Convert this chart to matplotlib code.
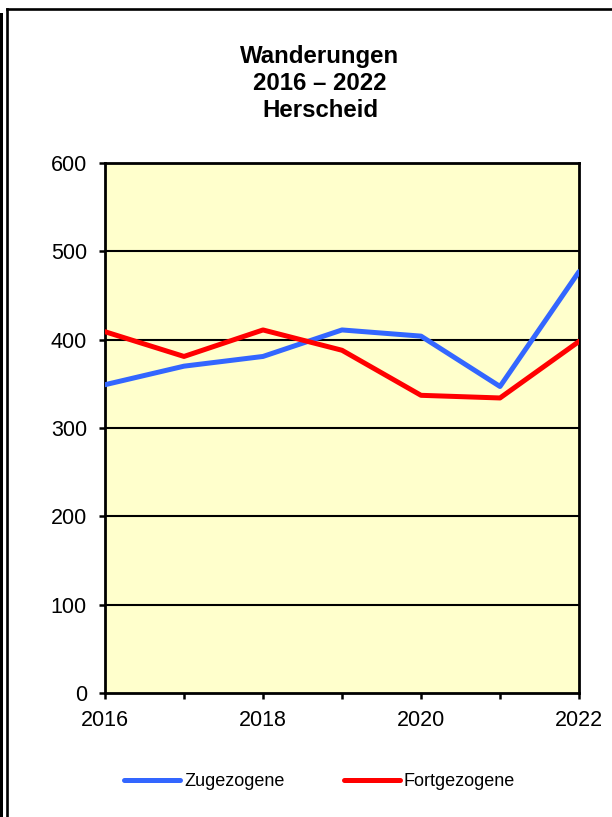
import matplotlib
matplotlib.use("Agg")
import matplotlib.pyplot as plt
from matplotlib.lines import Line2D
from matplotlib.patches import Rectangle

plt.rcParams['font.family'] = ['Liberation Sans', 'DejaVu Sans']

years = [2016, 2017, 2018, 2019, 2020, 2021, 2022]
zugezogene = [349, 370, 381, 411, 404, 347, 477]
fortgezogene = [409, 381, 411, 388, 337, 334, 398]
series_names = ["Zugezogene", "Fortgezogene"]
title_lines = ["Wanderungen", "2016 \u2013 2022", "Herscheid"]
y_ticks = [0, 100, 200, 300, 400, 500, 600]
x_ticks = [2016, 2018, 2020, 2022]

W, H = 612, 817
fig = plt.figure(figsize=(W / 100, H / 100), dpi=100)

# outer frame decorations
fig.add_artist(Rectangle((0, 0), 3 / W, 1 - 13 / H, transform=fig.transFigure,
                         facecolor='black', edgecolor='none'))
fig.add_artist(Line2D([6.5 / W, 6.5 / W], [0, 1 - 9 / H], transform=fig.transFigure,
                      color='black', lw=1.9, solid_capstyle='projecting'))
fig.add_artist(Line2D([6.5 / W, 1.0], [1 - 9 / H, 1 - 9 / H], transform=fig.transFigure,
                      color='black', lw=1.9, solid_capstyle='projecting'))

ax = fig.add_axes([105 / W, 1 - 693 / H, (579 - 105) / W, (693 - 163) / H])
ax.set_facecolor('#FFFFCC')

for v in y_ticks[1:-1]:
    ax.axhline(v, color='black', lw=1.5, zorder=1)

l1, = ax.plot(years, zugezogene, color='#3366FF', lw=3.6, zorder=3,
              solid_capstyle='round', label=series_names[0])
l2, = ax.plot(years, fortgezogene, color='#FF0000', lw=3.6, zorder=3,
              solid_capstyle='round', label=series_names[1])

ax.set_xlim(2016, 2022)
ax.set_ylim(0, 600)
ax.set_yticks(y_ticks)
ax.set_xticks(years)
ax.set_xticklabels([str(y) if y in x_ticks else '' for y in years])
for s in ax.spines.values():
    s.set_linewidth(2.0)
    s.set_color('black')
ax.tick_params(axis='both', direction='out', length=4, width=1.8, labelsize=15.5,
               colors='black')
ax.tick_params(axis='y', pad=9)
ax.tick_params(axis='x', pad=8)

# title
for i, t in enumerate(title_lines):
    fig.text(320 / W, 1 - (63 + 27 * i) / H, t, ha='center', va='baseline',
             fontsize=17.3, fontweight='bold')

leg = fig.legend(handles=[l1, l2], loc='center', bbox_to_anchor=(319.5 / W, 1 - 782 / H),
                 ncol=2, frameon=False, fontsize=13, handlelength=3.1,
                 handletextpad=0.2, columnspacing=3.3)

fig.savefig('out.png', dpi=100)
